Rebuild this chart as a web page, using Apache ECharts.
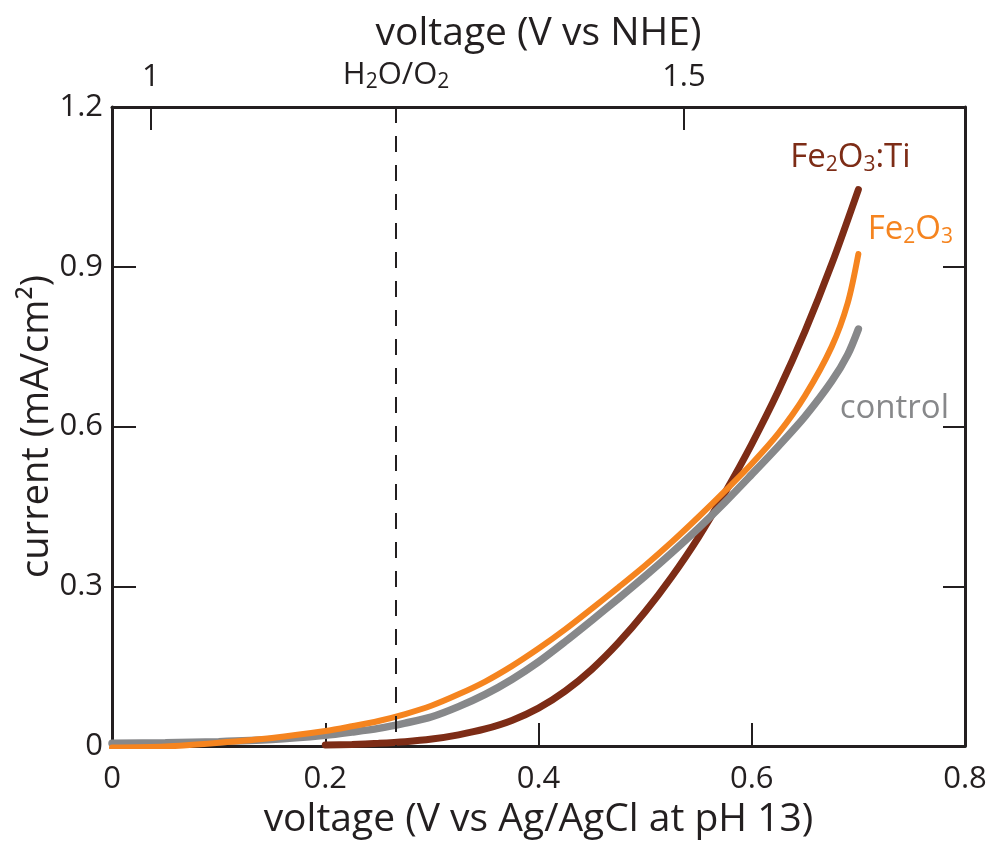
<!DOCTYPE html>
<html>
<head>
<meta charset="utf-8">
<script src="https://cdn.jsdelivr.net/npm/echarts@6/dist/echarts.min.js"></script>
<style>
  html, body { margin: 0; padding: 0; background: #fff; }
  #chart { width: 991px; height: 841px; }
</style>
</head>
<body>
<div id="chart"></div>
<script>
// Photocurrent vs applied potential for three hematite photoanodes
const fe2o3Voltage = [0, 0.05, 0.1, 0.15, 0.2, 0.225, 0.25, 0.275, 0.3, 0.325, 0.35, 0.375, 0.4, 0.425, 0.45, 0.475, 0.5, 0.525, 0.55, 0.575, 0.6, 0.625, 0.65, 0.675, 0.69, 0.7];
const fe2o3Current = [-0.003, -0.001, 0.006, 0.015, 0.028, 0.037, 0.047, 0.06, 0.076, 0.097, 0.121, 0.15, 0.183, 0.219, 0.258, 0.298, 0.339, 0.383, 0.43, 0.479, 0.53, 0.587, 0.658, 0.75, 0.832, 0.924];

const controlVoltage = [0, 0.05, 0.1, 0.15, 0.2, 0.225, 0.25, 0.275, 0.3, 0.325, 0.35, 0.375, 0.4, 0.425, 0.45, 0.475, 0.5, 0.525, 0.55, 0.575, 0.6, 0.625, 0.65, 0.675, 0.69, 0.7];
const controlCurrent = [0.005, 0.006, 0.008, 0.012, 0.02, 0.026, 0.033, 0.043, 0.055, 0.074, 0.097, 0.125, 0.158, 0.196, 0.236, 0.277, 0.319, 0.363, 0.409, 0.458, 0.51, 0.563, 0.619, 0.685, 0.735, 0.783];

const tiVoltage = [0.2, 0.225, 0.25, 0.275, 0.3, 0.325, 0.35, 0.375, 0.4, 0.425, 0.45, 0.475, 0.5, 0.525, 0.55, 0.575, 0.6, 0.625, 0.65, 0.675, 0.7];
const tiCurrent = [0.002, 0.003, 0.005, 0.008, 0.013, 0.021, 0.032, 0.048, 0.071, 0.103, 0.144, 0.194, 0.252, 0.318, 0.392, 0.476, 0.567, 0.667, 0.779, 0.905, 1.045];

// Ag/AgCl (pH 13) -> NHE conversion and the water oxidation potential
const nheOffset = 0.9636;
const nheTicks = [1, 1.5];
const waterOxidationNHE = 1.23;
const currentRange = [0, 1.2];

const INK = '#231f20';
const FONT = 'Open Sans';
const C_TI = '#7d2c16';
const C_FE = '#f5841f';
const C_CTRL = '#87888a';

const tickFont = { fontSize: 31, color: INK, fontFamily: FONT };
const nameFont = { fontSize: 39, color: INK, fontFamily: FONT };

const subRich = {
  sub: { fontSize: 21, fontFamily: FONT, padding: [14, 0, 0, 0] }
};

function pairs(xs, ys) { return xs.map((x, i) => [x, ys[i]]); }
function fmt(v) { return v === 0 ? '0' : String(+v.toFixed(1)); }

const chart = echarts.init(document.getElementById('chart'), null, { renderer: 'canvas' });

const frameLine = { show: true, onZero: false, lineStyle: { color: INK, width: 3 } };
const tickStyle = { color: INK, width: 2 };
const SMOOTH = 0.3;
const waterX = waterOxidationNHE - nheOffset;

chart.setOption({
  animation: false,
  backgroundColor: '#fff',
  textStyle: { fontFamily: FONT, color: INK },
  grid: { left: 112, right: 26, top: 107, bottom: 95, containLabel: false, outerBoundsMode: 'none' },
  xAxis: [
    {
      type: 'value', position: 'bottom', min: 0, max: 0.8, interval: 0.2,
      axisLine: frameLine,
      axisTick: { show: true, inside: true, length: 23, lineStyle: tickStyle },
      axisLabel: Object.assign({ margin: 18, formatter: fmt }, tickFont),
      splitLine: { show: false },
      name: 'voltage (V vs Ag/AgCl at pH 13)', nameLocation: 'middle', nameGap: 54,
      nameMoveOverlap: false,
      nameTextStyle: nameFont
    },
    {
      type: 'value', position: 'top', min: nheOffset, max: nheOffset + 0.8,
      axisLine: frameLine,
      axisTick: { show: true, inside: true, length: 23, customValues: nheTicks, lineStyle: tickStyle },
      axisLabel: Object.assign({
        margin: 14,
        customValues: nheTicks.concat([waterOxidationNHE]),
        formatter: v => (Math.abs(v - waterOxidationNHE) < 1e-6 ? 'H{sub|2}O/O{sub|2}' : String(v)),
        rich: subRich
      }, tickFont),
      splitLine: { show: false },
      name: 'voltage (V vs NHE)', nameLocation: 'middle', nameGap: 54,
      nameMoveOverlap: false,
      nameTextStyle: nameFont
    }
  ],
  yAxis: [
    {
      type: 'value', position: 'left', min: currentRange[0], max: currentRange[1], interval: 0.3,
      axisLine: frameLine,
      axisTick: { show: true, inside: true, length: 24, lineStyle: tickStyle },
      axisLabel: Object.assign({ margin: 9, formatter: fmt }, tickFont),
      splitLine: { show: false },
      name: 'current (mA/cm²)', nameLocation: 'middle', nameGap: 56, nameRotate: 90,
      nameMoveOverlap: false,
      nameTextStyle: { fontSize: 38, color: INK, fontFamily: FONT }
    },
    {
      type: 'value', position: 'right', min: currentRange[0], max: currentRange[1], interval: 0.3,
      axisLine: frameLine,
      axisTick: { show: true, inside: true, length: 22, lineStyle: tickStyle },
      axisLabel: { show: false },
      splitLine: { show: false }
    }
  ],
  series: [
    {
      name: 'Fe2O3:Ti', type: 'line', xAxisIndex: 0, yAxisIndex: 0,
      data: pairs(tiVoltage, tiCurrent), smooth: SMOOTH, showSymbol: false, z: 2,
      lineStyle: { color: C_TI, width: 7, cap: 'round' },
      endLabel: {
        show: true, formatter: 'Fe{sub|2}O{sub|3}:Ti', color: C_TI, fontSize: 33, fontFamily: FONT,
        position: 'right', distance: 0, align: 'center', verticalAlign: 'middle', offset: [-8, -32],
        rich: subRich
      },
      // water oxidation potential, dashed from the top frame down
      markLine: {
        silent: true, symbol: 'none', animation: false,
        label: { show: false },
        lineStyle: { color: INK, width: 2, type: [16, 13] },
        data: [[{ coord: [waterX, currentRange[1]] }, { coord: [waterX, currentRange[0]] }]]
      }
    },
    {
      name: 'control', type: 'line', xAxisIndex: 0, yAxisIndex: 0,
      data: pairs(controlVoltage, controlCurrent), smooth: SMOOTH, showSymbol: false, z: 3,
      lineStyle: { color: C_CTRL, width: 7.5, cap: 'round' },
      endLabel: {
        show: true, formatter: 'control', color: C_CTRL, fontSize: 33, fontFamily: FONT,
        position: 'right', distance: 0, align: 'center', verticalAlign: 'middle', offset: [36, 80]
      }
    },
    {
      name: 'Fe2O3', type: 'line', xAxisIndex: 0, yAxisIndex: 0,
      data: pairs(fe2o3Voltage, fe2o3Current), smooth: SMOOTH, showSymbol: false, z: 4,
      lineStyle: { color: C_FE, width: 6, cap: 'round' },
      endLabel: {
        show: true, formatter: 'Fe{sub|2}O{sub|3}', color: C_FE, fontSize: 33, fontFamily: FONT,
        position: 'right', distance: 0, align: 'center', verticalAlign: 'middle', offset: [52, -24],
        rich: subRich
      }
    }
  ]
});
</script>
</body>
</html>
